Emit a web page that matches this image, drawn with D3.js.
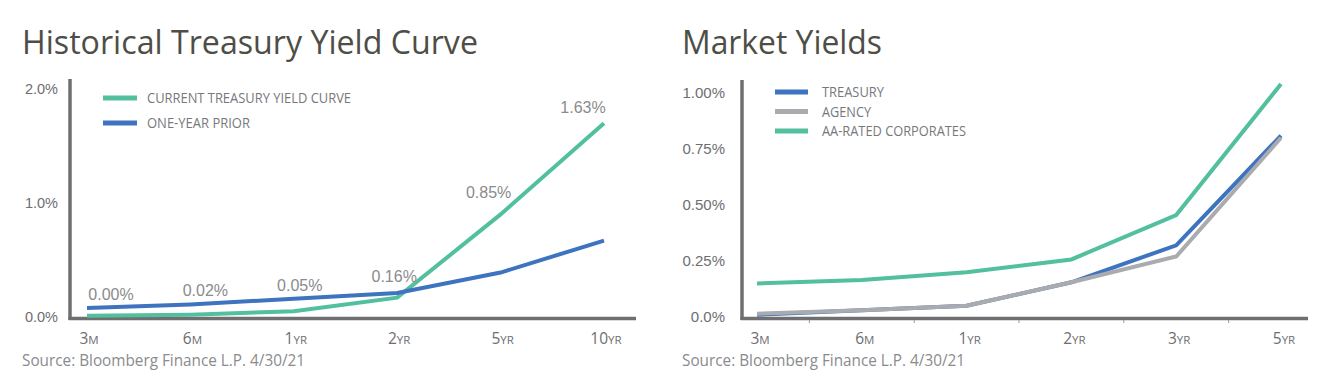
<!DOCTYPE html>
<html>
<head>
<meta charset="utf-8">
<script src="https://cdn.jsdelivr.net/npm/d3@7"></script>
<style>
  html, body { margin: 0; padding: 0; background: #ffffff; }
  svg { display: block; }
</style>
</head>
<body>
<svg id="chart" width="1332" height="380"></svg>
<script>
// ---------- DATA ----------
const histTitle = "Historical Treasury Yield Curve";
const histCategories = [["3", "M"], ["6", "M"], ["1", "YR"], ["2", "YR"], ["5", "YR"], ["10", "YR"]];
const histCurrent = [0.01, 0.02, 0.05, 0.17, 0.90, 1.70];
const histPrior = [0.08, 0.11, 0.16, 0.21, 0.39, 0.67];
const histLabels = ["0.00%", "0.02%", "0.05%", "0.16%", "0.85%", "1.63%"];
const histTicks = [0, 1, 2];
const histTickLabels = ["0.0%", "1.0%", "2.0%"];
const histSeriesNames = ["CURRENT TREASURY YIELD CURVE", "ONE-YEAR PRIOR"];

const mktTitle = "Market Yields";
const mktCategories = [["3", "M"], ["6", "M"], ["1", "YR"], ["2", "YR"], ["3", "YR"], ["5", "YR"]];
const mktTreasury = [0.01, 0.03, 0.05, 0.155, 0.32, 0.81];
const mktAgency = [0.015, 0.03, 0.05, 0.155, 0.27, 0.80];
const mktCorporates = [0.15, 0.165, 0.20, 0.257, 0.455, 1.04];
const mktTicks = [0, 0.25, 0.5, 0.75, 1];
const mktTickLabels = ["0.0%", "0.25%", "0.50%", "0.75%", "1.00%"];
const mktSeriesNames = ["TREASURY", "AGENCY", "AA-RATED CORPORATES"];

const sourceText = "Source: Bloomberg Finance L.P. 4/30/21";

// ---------- STYLE ----------
const GREEN = "#52bf9f", BLUE = "#3e73bf", GRAY = "#a9abae", AXIS = "#6f6f72";
const TITLE_C = "#4e4e46", TEXT_C = "#6d6e71", LABEL_C = "#8a8b8e", LEG_C = "#77787b";
const MYRIAD = "'Open Sans', 'Noto Sans', sans-serif";
const ARIAL = "'Liberation Sans', Arial, sans-serif";

const svg = d3.select("#chart");
const key = c => c.join("");

function fitText(sel, w) {
  sel.attr("textLength", w).attr("lengthAdjust", "spacingAndGlyphs");
}

function catLabel(g, cats, x, y, dx) {
  const t = g.selectAll("text.xl").data(cats).join("text")
    .attr("class", "xl")
    .attr("x", d => x(key(d)) + dx)
    .attr("y", y)
    .attr("text-anchor", "middle")
    .attr("fill", TEXT_C)
    .attr("font-family", MYRIAD);
  t.append("tspan").attr("font-size", 15.5).text(d => d[0]);
  t.append("tspan").attr("font-size", 11.5).text(d => d[1]);
}

// =============== LEFT CHART ===============
{
  const g = svg.append("g");
  const x = d3.scalePoint().domain(histCategories.map(key)).range([87, 604]);
  const y = d3.scaleLinear().domain([0, 2]).range([317, 89]);

  g.append("text").attr("x", 22).attr("y", 54).attr("fill", TITLE_C)
    .attr("font-family", MYRIAD).attr("font-size", 32).text(histTitle)
    .call(fitText, 456);

  g.selectAll("text.yt").data(histTicks).join("text")
    .attr("class", "yt")
    .attr("x", 58).attr("y", d => y(d)).attr("dy", "0.35em")
    .attr("text-anchor", "end").attr("fill", TEXT_C)
    .attr("font-family", ARIAL).attr("font-size", 14.5)
    .text((d, i) => histTickLabels[i]);

  g.append("line").attr("x1", 70).attr("x2", 70).attr("y1", 79).attr("y2", y(0) + 3)
    .attr("stroke", AXIS).attr("stroke-width", 3.5);
  g.append("line").attr("x1", 68.5).attr("x2", 636).attr("y1", y(0) + 1.5).attr("y2", y(0) + 1.5)
    .attr("stroke", AXIS).attr("stroke-width", 3.5);

  catLabel(g, histCategories, x, 344, 2);

  const line = d3.line().x((d, i) => x(key(histCategories[i]))).y(d => y(d));
  g.append("path").datum(histCurrent).attr("d", line)
    .attr("fill", "none").attr("stroke", GREEN).attr("stroke-width", 4);
  g.append("path").datum(histPrior).attr("d", line)
    .attr("fill", "none").attr("stroke", BLUE).attr("stroke-width", 4);

  g.selectAll("text.vl").data(histLabels).join("text")
    .attr("class", "vl")
    .attr("x", (d, i) => x(key(histCategories[i])) + 24 - 9 * i)
    .attr("y", (d, i) => Math.min(y(histCurrent[i]) - 16, y(histPrior[i]) - 8) + (i === histLabels.length - 1 ? 6 : 0))
    .attr("text-anchor", "middle").attr("fill", LABEL_C)
    .attr("font-family", ARIAL).attr("font-size", 16)
    .text(d => d);

  const legColors = [GREEN, BLUE];
  const legW = [204, 103];
  histSeriesNames.forEach((name, i) => {
    const ly = 98 + i * 25;
    g.append("line").attr("x1", 103).attr("x2", 137).attr("y1", ly).attr("y2", ly)
      .attr("stroke", legColors[i]).attr("stroke-width", 5);
    g.append("text").attr("x", 147).attr("y", ly).attr("dy", "0.36em")
      .attr("fill", LEG_C).attr("font-family", MYRIAD).attr("font-size", 14)
      .text(name).call(fitText, legW[i]);
  });

  g.append("text").attr("x", 22).attr("y", 366).attr("fill", LABEL_C)
    .attr("font-family", MYRIAD).attr("font-size", 15.5).text(sourceText)
    .call(fitText, 283);
}

// =============== RIGHT CHART ===============
{
  const g = svg.append("g");
  const x = d3.scalePoint().domain(mktCategories.map(key)).range([757, 1281]);
  const y = d3.scaleLinear().domain([0, 1]).range([317, 93]);

  g.append("text").attr("x", 682).attr("y", 54).attr("fill", TITLE_C)
    .attr("font-family", MYRIAD).attr("font-size", 32).text(mktTitle)
    .call(fitText, 200);

  g.selectAll("text.yt").data(mktTicks).join("text")
    .attr("class", "yt")
    .attr("x", 725).attr("y", d => y(d)).attr("dy", "0.35em")
    .attr("text-anchor", "end").attr("fill", TEXT_C)
    .attr("font-family", ARIAL).attr("font-size", 15)
    .text((d, i) => mktTickLabels[i]);

  g.append("line").attr("x1", 742).attr("x2", 742).attr("y1", 80).attr("y2", y(0) + 3)
    .attr("stroke", AXIS).attr("stroke-width", 3.5);
  g.append("line").attr("x1", 740.5).attr("x2", 1308).attr("y1", y(0) + 1.5).attr("y2", y(0) + 1.5)
    .attr("stroke", AXIS).attr("stroke-width", 3.5);

  const cats = mktCategories.map(key);
  const mids = cats.slice(0, -1).map((c, i) => (x(c) + x(cats[i + 1])) / 2);
  g.selectAll("line.tk").data(mids).join("line")
    .attr("class", "tk")
    .attr("x1", d => d).attr("x2", d => d)
    .attr("y1", y(0) + 3).attr("y2", y(0) + 6)
    .attr("stroke", "#9a9b9d").attr("stroke-width", 1);

  catLabel(g, mktCategories, x, 344, 3);

  const line = d3.line().x((d, i) => x(cats[i])).y(d => y(d));
  [[mktTreasury, BLUE], [mktAgency, GRAY], [mktCorporates, GREEN]].forEach(([data, col]) => {
    g.append("path").datum(data).attr("d", line)
      .attr("fill", "none").attr("stroke", col).attr("stroke-width", 4);
  });

  const legColors = [BLUE, GRAY, GREEN];
  const legW = [62, 49, 144];
  mktSeriesNames.forEach((name, i) => {
    const ly = 92 + i * 19.5;
    g.append("line").attr("x1", 775).attr("x2", 808).attr("y1", ly).attr("y2", ly)
      .attr("stroke", legColors[i]).attr("stroke-width", 5);
    g.append("text").attr("x", 822).attr("y", ly).attr("dy", "0.36em")
      .attr("fill", LEG_C).attr("font-family", MYRIAD).attr("font-size", 14)
      .text(name).call(fitText, legW[i]);
  });

  g.append("text").attr("x", 682).attr("y", 366).attr("fill", LABEL_C)
    .attr("font-family", MYRIAD).attr("font-size", 15.5).text(sourceText)
    .call(fitText, 283);
}
</script>
</body>
</html>
